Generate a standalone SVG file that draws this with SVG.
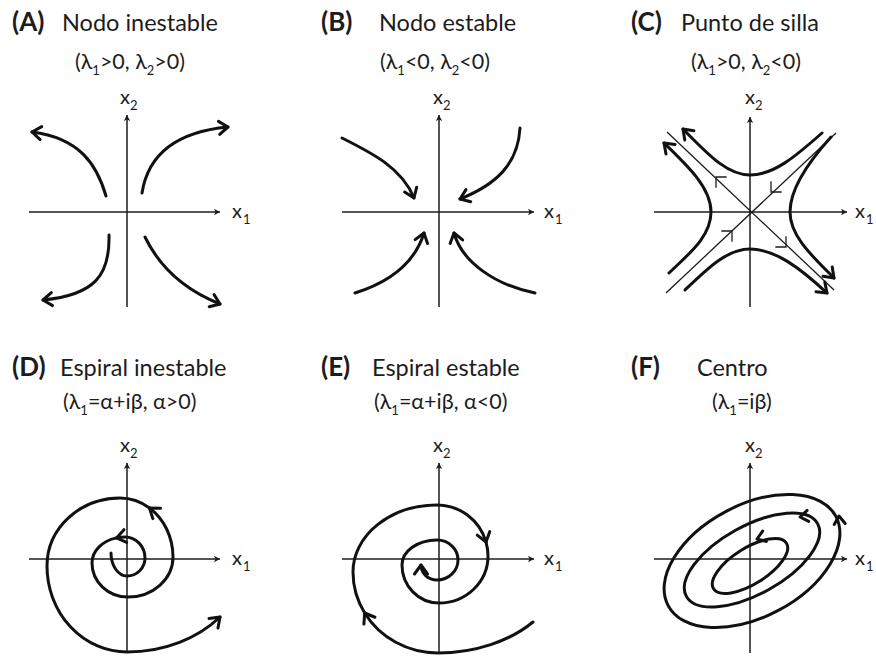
<svg xmlns="http://www.w3.org/2000/svg" width="876" height="657" viewBox="0 0 876 657">
<style>
text{font-family:Lato,"Noto Sans","DejaVu Sans",sans-serif;fill:#1c1c1c}
.t{font-size:23.5px}
.b{font-weight:700;font-size:26px}
.s{font-size:21.5px}
.ss{font-size:13px}
.x{font-size:20px}
.xs{font-size:13px}
.axis{stroke:#1c1c1c;stroke-width:1.5;fill:none;marker-end:url(#ax)}
.c{stroke:#111;stroke-width:3;fill:none;stroke-linecap:round}
.e{marker-end:url(#ah)}
.thin{stroke:#1c1c1c;stroke-width:1.3;fill:none}
.mk{stroke:#1c1c1c;stroke-width:1.3;fill:none;stroke-linecap:square}
</style>
<defs>
<marker id="ah" markerUnits="userSpaceOnUse" viewBox="-12 -12 24 24" markerWidth="24" markerHeight="24" refX="0" refY="0" orient="auto"><path d="M-9,-6.5 L0,0 L-9,6.5" fill="none" stroke="#111" stroke-width="3" stroke-linecap="round" stroke-linejoin="round"/></marker>
<marker id="ax" markerUnits="userSpaceOnUse" viewBox="-8 -6 10 12" markerWidth="10" markerHeight="12" refX="0" refY="0" orient="auto"><path d="M-6,-3.2 L0,0 L-6,3.2 L-4.5,0 Z" fill="#1c1c1c"/></marker>
<path id="chev" d="M-8,-5.5 L0,0 L-8,5.5" fill="none" stroke="#111" stroke-width="3" stroke-linecap="round" stroke-linejoin="round"/>
</defs>

<g id="panelA">
<text class="b" x="12" y="31">(A)</text>
<text class="t" x="62" y="31">Nodo inestable</text>
<text class="s" x="75" y="69">(λ<tspan class="ss" dy="6">1</tspan><tspan dy="-6">&gt;0, λ</tspan><tspan class="ss" dy="6">2</tspan><tspan dy="-6">&gt;0)</tspan></text>
<path class="axis" d="M29,212 H220"/>
<path class="axis" d="M127,307 V115"/>
<text class="x" x="120" y="104">x</text><text class="xs" x="130" y="110">2</text>
<text class="x" x="232" y="218">x</text><text class="xs" x="243" y="224">1</text>
<path class="c e" d="M106,196 C97,165 80,138 32,132"/>
<path class="c e" d="M142,193 C148,155 175,132 228,127"/>
<path class="c e" d="M109,235 C110,275 95,295 43,300"/>
<path class="c e" d="M145,237 C160,268 185,290 220,304"/>
</g>

<g id="panelB">
<text class="b" x="321" y="31">(B)</text>
<text class="t" x="379" y="31">Nodo estable</text>
<text class="s" x="380" y="69">(λ<tspan class="ss" dy="6">1</tspan><tspan dy="-6">&lt;0, λ</tspan><tspan class="ss" dy="6">2</tspan><tspan dy="-6">&lt;0)</tspan></text>
<path class="axis" d="M342,212 H534"/>
<path class="axis" d="M439,307 V115"/>
<text class="x" x="433" y="104">x</text><text class="xs" x="443" y="110">2</text>
<text class="x" x="544" y="218">x</text><text class="xs" x="555" y="224">1</text>
<path class="c e" d="M342,138 C372,153 402,168 414,198"/>
<path class="c e" d="M520,128 C518,165 495,185 460,199"/>
<path class="c e" d="M355,293 C390,282 415,262 424,233"/>
<path class="c e" d="M535,293 C495,285 462,262 454,233"/>
</g>

<g id="panelC">
<text class="b" x="631" y="31">(C)</text>
<text class="t" x="681" y="31">Punto de silla</text>
<text class="s" x="691" y="69">(λ<tspan class="ss" dy="6">1</tspan><tspan dy="-6">&gt;0, λ</tspan><tspan class="ss" dy="6">2</tspan><tspan dy="-6">&lt;0)</tspan></text>
<path class="axis" d="M654,212 H847"/>
<path class="axis" d="M750,307 V117"/>
<text class="x" x="745" y="104">x</text><text class="xs" x="755" y="110">2</text>
<text class="x" x="855" y="218">x</text><text class="xs" x="866" y="224">1</text>
<path class="thin" d="M667,132 L834,290"/>
<path class="thin" d="M666,293 L836,133"/>
<path class="mk" d="M726,177 L716,177 L716,187"/>
<path class="mk" d="M776,247 L786,247 L786,237"/>
<path class="mk" d="M771,182 L771,192 L781,192"/>
<path class="mk" d="M722,231 L732,231 L732,241"/>
<path class="c e" d="M822,133 C796,156 774,175 750,175 C726,175 706,152 683,129"/>
<path class="c e" d="M685,290 C708,268 727,249 750,249 C775,249 800,268 827,293"/>
<path class="c e" d="M669,273 C690,253 711,236 711,212 C711,188 688,166 664,143"/>
<path class="c e" d="M831,137 C812,158 790,188 790,212 C790,236 812,256 834,278"/>
</g>

<g id="panelD">
<text class="b" x="12" y="376">(D)</text>
<text class="t" x="60" y="376">Espiral inestable</text>
<text class="s" x="63" y="409">(λ<tspan class="ss" dy="6">1</tspan><tspan dy="-6">=α+iβ, α&gt;0)</tspan></text>
<path class="axis" d="M29,559 H220"/>
<path class="axis" d="M127,653 V463"/>
<text class="x" x="120" y="452">x</text><text class="xs" x="130" y="458">2</text>
<text class="x" x="232" y="565">x</text><text class="xs" x="243" y="571">1</text>
<path class="c e" d="M111,553 A16,23 0 0 0 127,576 A18,18 0 0 0 145,558 A20,21 0 0 0 125,537 A33,26 0 0 0 116.5,537.9"/>
<path class="c e" d="M116.5,537.9 A33,26 0 0 0 92,563 A36,34 0 0 0 128,597 A45,40 0 0 0 173,557 A53,59 0 0 0 149.5,508"/>
<path class="c e" d="M149.5,508 A53,59 0 0 0 120,498 A73,68 0 0 0 47,566 A80,86 0 0 0 127,652 C165,652 198,638 220,617"/>
</g>

<g id="panelE">
<text class="b" x="321" y="376">(E)</text>
<text class="t" x="372" y="376">Espiral estable</text>
<text class="s" x="374" y="409">(λ<tspan class="ss" dy="6">1</tspan><tspan dy="-6">=α+iβ, α&lt;0)</tspan></text>
<path class="axis" d="M342,559 H534"/>
<path class="axis" d="M439,653 V463"/>
<text class="x" x="433" y="452">x</text><text class="xs" x="443" y="458">2</text>
<text class="x" x="544" y="565">x</text><text class="xs" x="555" y="571">1</text>
<path class="c e" d="M533,622 C510,641 475,653 438,653 A85,81 0 0 1 364.7,613"/>
<path class="c e" d="M364.7,613 A85,81 0 0 1 353,572 A84,67 0 0 1 437,505 A51,51 0 0 1 486,542"/>
<path class="c e" d="M486,542 A51,51 0 0 1 488,556 A49,47 0 0 1 439,603 A37,38 0 0 1 402,565 A35,25 0 0 1 437,540 A21,20 0 0 1 458,560 A21,20 0 0 1 437,580 A16,15 0 0 1 421,565"/>
</g>

<g id="panelF">
<text class="b" x="631" y="376">(F)</text>
<text class="t" x="697" y="376">Centro</text>
<text class="s" x="712" y="409">(λ<tspan class="ss" dy="6">1</tspan><tspan dy="-6">=iβ)</tspan></text>
<path class="axis" d="M654,559 H847"/>
<path class="axis" d="M750,653 V463"/>
<text class="x" x="745" y="452">x</text><text class="xs" x="755" y="458">2</text>
<text class="x" x="855" y="565">x</text><text class="xs" x="866" y="571">1</text>
<ellipse class="c" cx="752" cy="561" rx="95" ry="56" transform="rotate(-28 752 561)"/>
<ellipse class="c" cx="752" cy="560" rx="75" ry="34" transform="rotate(-29 752 560)"/>
<ellipse class="c" cx="750" cy="566" rx="43" ry="18" transform="rotate(-32 750 566)"/>
<use href="#chev" transform="translate(839,516) rotate(-95)"/>
<use href="#chev" transform="translate(800,517) rotate(172)"/>
<use href="#chev" transform="translate(757,539) rotate(160)"/>
</g>
</svg>
